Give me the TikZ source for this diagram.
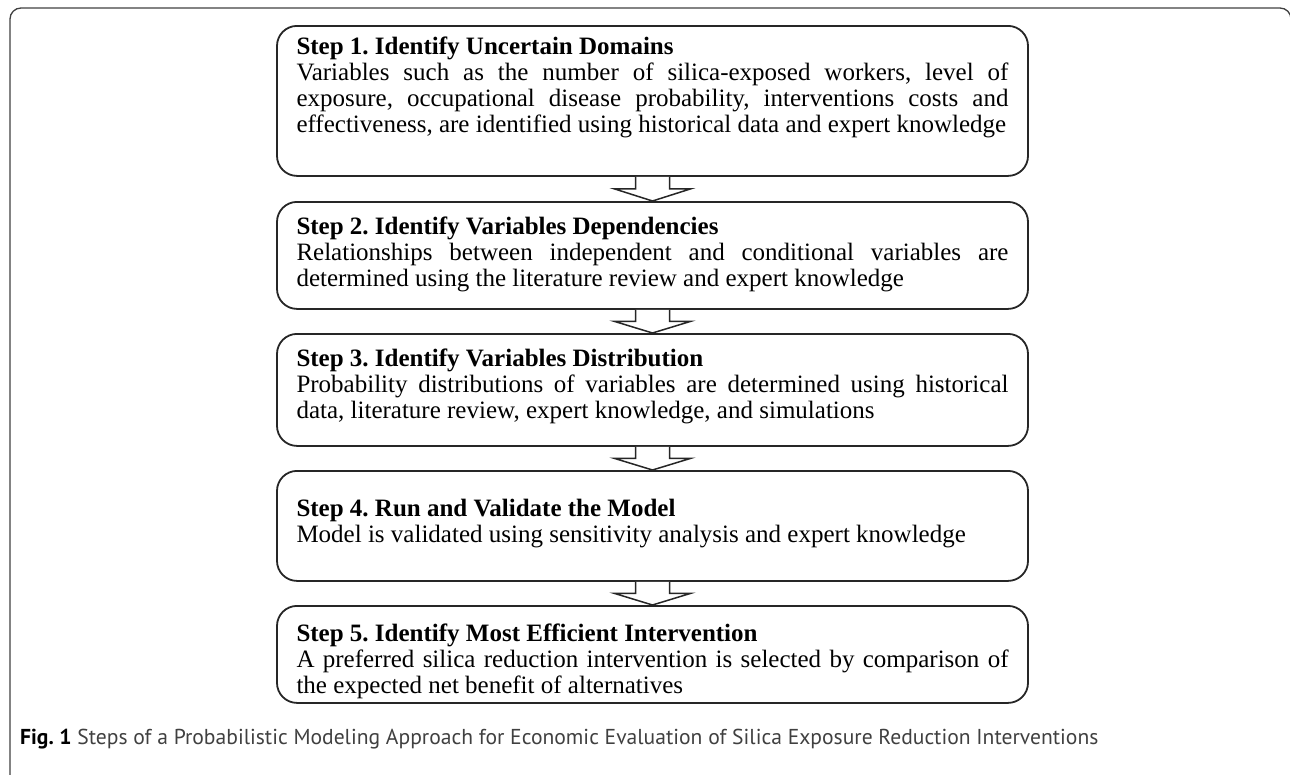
\documentclass[tikz,border=0pt]{standalone}
\usepackage{fontspec}
\setmainfont{Liberation Serif}
\newfontfamily\capfont{PT Sans}
\usetikzlibrary{positioning,calc}
\frenchspacing
\hyphenpenalty=10000
% a line spread over the whole width of the box
\newcommand{\fullline}[1]{\makebox[\linewidth][s]{#1}}

\begin{document}
\begin{tikzpicture}[x=1pt,y=-1pt,
	stepbox/.style={draw=black!85,line width=1.8pt,rounded corners=20pt,
		inner xsep=19.5pt,inner ysep=0pt,anchor=north,
		font=\fontsize{25}{26}\selectfont},
	flow/.style={draw=black!85,line width=1.5pt,fill=white}]
		\useasboundingbox (0,0) rectangle (1290,774);
		\draw[black!75,line width=1.3pt,rounded corners=11pt]
		(30,790) -- (10,790) -- (10,8) -- (1291,8) -- (1291,40);
		\foreach \n/\y/\h/\o/\t in
		{
			s1/25/150/11/{\textbf{Step 1. Identify Uncertain Domains}\\
				\fullline{Variables such as the number of silica-exposed workers, level of}\\
				\fullline{exposure, occupational disease probability, interventions costs and}\\
				effectiveness, are identified using historical data and expert knowledge},
			s2/201/107/15/{\textbf{Step 2. Identify Variables Dependencies}\\
				\fullline{Relationships between independent and conditional variables are}\\
				determined using the literature review and expert knowledge},
			s3/333/112/15/{\textbf{Step 3. Identify Variables Distribution}\\
				\fullline{Probability distributions of variables are determined using historical}\\
				data, literature review, expert knowledge, and simulations},
			s4/470/110/28/{\textbf{Step 4. Run and Validate the Model}\\
				Model is validated using sensitivity analysis and expert knowledge},
			s5/605/97/18/{\textbf{Step 5. Identify Most Efficient Intervention}\\
				\fullline{A preferred silica reduction intervention is selected by comparison of}\\
				the expected net benefit of alternatives}
		}
		{
			\node[stepbox] (\n) at (652.5,\y)
			{\parbox[c][\h pt][t]{712pt}{\vspace*{\o pt}\t}};
		}
		\foreach \a/\b in {s1/s2,s2/s3,s3/s4,s4/s5}
		{
			\coordinate (m) at ($(\a.south)!.5!(\b.north)$);
			\draw[flow] ($(\a.south)+(-17,0)$) |- ($(m)+(-38,0)$) -- (\b.north)
			-- ($(m)+(38,0)$) -| ($(\a.south)+(17,0)$);
		}
		\node[anchor=west,inner sep=0pt,text=black!75] (cap) at (20,739)
		{\resizebox{1078pt}{!}{\capfont\textbf{\color{black}Fig. 1} Steps of a Probabilistic Modeling Approach for Economic Evaluation of Silica Exposure Reduction Interventions}};
		\end{tikzpicture}
\end{document}
